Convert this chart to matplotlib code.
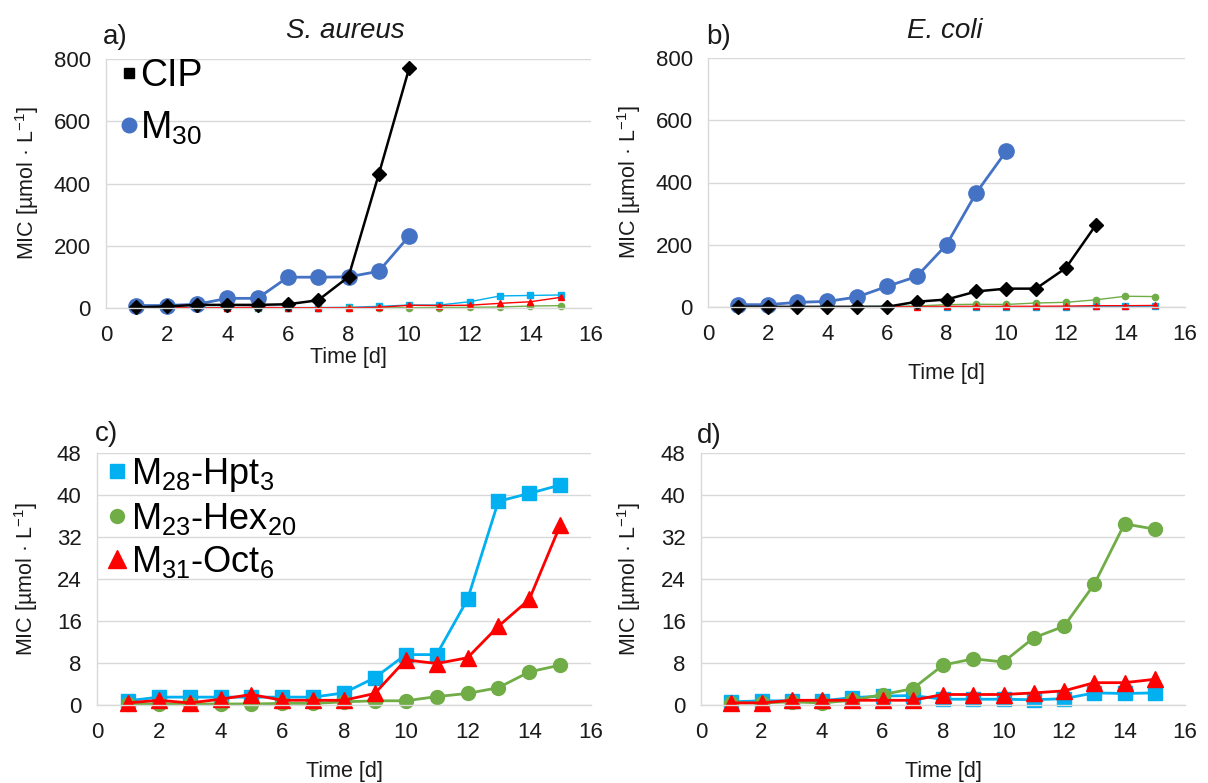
import matplotlib
matplotlib.use("Agg")
import matplotlib.pyplot as plt
from matplotlib.lines import Line2D

plt.rcParams['font.family'] = ['Liberation Sans', 'DejaVu Sans']
plt.rcParams['mathtext.fontset'] = 'custom'
plt.rcParams['mathtext.rm'] = 'Liberation Sans'
plt.rcParams['mathtext.it'] = 'Liberation Sans:italic'
plt.rcParams['mathtext.default'] = 'regular'

# ---------------- data ----------------
days15 = list(range(1, 16))
days10 = list(range(1, 11))
days13 = list(range(1, 14))

# S. aureus
sa_cip = [2, 5, 10, 10, 10, 12, 25, 100, 430, 770]
sa_m30 = [8, 8, 12, 31, 31, 99, 99, 100, 118, 231]
sa_hpt = [0.8, 1.5, 1.5, 1.5, 1.5, 1.5, 1.5, 2.3, 5.2, 9.6, 9.6, 20.1, 38.8, 40.3, 41.9]
sa_hex = [0.2, 0.2, 0.2, 0.2, 0.2, 0.3, 0.3, 0.6, 0.8, 0.8, 1.6, 2.2, 3.3, 6.3, 7.6]
sa_oct = [0.4, 0.9, 0.4, 1.1, 2.0, 0.9, 0.9, 0.9, 2.2, 8.6, 7.9, 9.0, 15.0, 20.1, 34.2]

# E. coli
ec_cip = [0.5, 0.5, 0.5, 0.5, 0.5, 0.5, 17, 24, 50, 59, 59, 125, 262]
ec_m30 = [7.5, 7.5, 15, 18, 32, 66, 98, 200, 367, 500]
ec_hpt = [0.6, 0.8, 0.8, 0.8, 1.4, 1.7, 1.8, 1.1, 1.1, 1.1, 1.0, 1.2, 2.3, 2.2, 2.3]
ec_hex = [0.4, 0.4, 0.6, 0.4, 0.9, 2.0, 3.1, 7.6, 8.8, 8.2, 12.8, 15.0, 23.0, 34.5, 33.5]
ec_oct = [0.4, 0.4, 0.9, 0.9, 0.9, 0.9, 0.9, 2.0, 2.0, 2.0, 2.3, 2.7, 4.25, 4.25, 4.9]

xticks = [0, 2, 4, 6, 8, 10, 12, 14, 16]
yticks_big = [0, 200, 400, 600, 800]
yticks_small = [0, 8, 16, 24, 32, 40, 48]

C_CIP = '#000000'
C_M30 = '#4472C4'
C_HPT = '#00B0F0'
C_HEX = '#70AD47'
C_OCT = '#FF0000'
GRID = '#D9D9D9'
TXT = '#1a1a1a'

W, H = 1208, 783
fig = plt.figure(figsize=(W / 100, H / 100), dpi=100)


def add_ax(left, right, top, bottom):
    return fig.add_axes([left / W, 1 - bottom / H, (right - left) / W, (bottom - top) / H])


def style(ax, yticks, ylim, xlabel_y, ylabel_x):
    ax.set_xlim(0, 16)
    ax.set_ylim(*ylim)
    ax.set_xticks(xticks)
    ax.set_yticks(yticks)
    ax.tick_params(length=0, labelsize=16, colors=TXT)
    ax.tick_params(axis='y', pad=11)
    ax.tick_params(axis='x', pad=12)
    ax.grid(axis='y', color=GRID, lw=1)
    ax.set_axisbelow(True)
    for s in ['top', 'right']:
        ax.spines[s].set_visible(False)
    for s in ['left', 'bottom']:
        ax.spines[s].set_color(GRID)
        ax.spines[s].set_linewidth(1)
    ax.set_ylabel('MIC [µmol · L$^{-1}$]', fontsize=15.5, color=TXT)
    ax.yaxis.set_label_coords(ylabel_x, 0.5)
    ax.set_xlabel('Time [d]', fontsize=15.5, color=TXT)
    ax.xaxis.set_label_coords(0.5, xlabel_y)


def small_series(ax, hpt, hex_, oct_, ms, lw, tri_ms=None):
    ax.plot(days15, hpt, color=C_HPT, marker='s', ms=ms, lw=lw, clip_on=False)
    ax.plot(days15, hex_, color=C_HEX, marker='o', ms=ms, lw=lw, clip_on=False)
    ax.plot(days15, oct_, color=C_OCT, marker='^', ms=tri_ms or ms, lw=lw, clip_on=False)


# ---- a) ----
axa = add_ax(106, 591, 59, 308)
small_series(axa, sa_hpt, sa_hex, sa_oct, 4.5, 1.0)
axa.plot(days10, sa_m30, color=C_M30, marker='o', ms=11, lw=2, clip_on=False)
axa.plot(days10, sa_cip, color=C_CIP, marker='D', ms=7.5, lw=1.8, clip_on=False)
style(axa, yticks_big, (0, 800), -0.155, -0.135)
h = [Line2D([], [], color=C_CIP, marker='s', ls='none', ms=7.5),
     Line2D([], [], color=C_M30, marker='o', ls='none', ms=10.5)]
axa.legend(h, ['CIP', 'M$_{30}$'], loc='upper left', frameon=False, fontsize=27,
           handlelength=0.35, handletextpad=0.12, labelspacing=0.42,
           borderaxespad=0.0, borderpad=0.0, bbox_to_anchor=(0.033, 1.005))
fig.text(103 / W, 1 - 37 / H, 'a)', fontsize=20, va='center', ha='left', color=TXT)
fig.text(345 / W, 1 - 31 / H, 'S. aureus', fontsize=20, style='italic', va='center', ha='center', color=TXT)

# ---- b) ----
axb = add_ax(708, 1185, 58, 307)
small_series(axb, ec_hpt, ec_hex, ec_oct, 4.5, 1.0)
axb.plot(days10, ec_m30, color=C_M30, marker='o', ms=11, lw=2, clip_on=False)
axb.plot(days13, ec_cip, color=C_CIP, marker='D', ms=7.5, lw=1.8, clip_on=False)
style(axb, yticks_big, (0, 800), -0.225, -0.137)
fig.text(706 / W, 1 - 37 / H, 'b)', fontsize=20, va='center', ha='left', color=TXT)
fig.text(945 / W, 1 - 31 / H, 'E. coli', fontsize=20, style='italic', va='center', ha='center', color=TXT)

# ---- c) ----
axc = add_ax(97, 591, 453, 705)
small_series(axc, sa_hpt, sa_hex, sa_oct, 10, 2.0, tri_ms=11)
style(axc, yticks_small, (0, 48), -0.222, -0.115)
h = [Line2D([], [], color=C_HPT, marker='s', ls='none', ms=10),
     Line2D([], [], color=C_HEX, marker='o', ls='none', ms=10),
     Line2D([], [], color=C_OCT, marker='^', ls='none', ms=13)]
axc.legend(h, ['M$_{28}$-Hpt$_{3}$', 'M$_{23}$-Hex$_{20}$', 'M$_{31}$-Oct$_{6}$'],
           loc='upper left', frameon=False, fontsize=26,
           handlelength=0.55, handletextpad=0.12, labelspacing=0.2,
           borderaxespad=0.0, borderpad=0.0, bbox_to_anchor=(0.02, 0.99))
fig.text(95 / W, 1 - 434 / H, 'c)', fontsize=20, va='center', ha='left', color=TXT)

# ---- d) ----
axd = add_ax(701, 1185, 453, 705)
small_series(axd, ec_hpt, ec_hex, ec_oct, 10, 2.0, tri_ms=11)
style(axd, yticks_small, (0, 48), -0.222, -0.12)
fig.text(697 / W, 1 - 436 / H, 'd)', fontsize=20, va='center', ha='left', color=TXT)

fig.savefig('out.png', dpi=100)
